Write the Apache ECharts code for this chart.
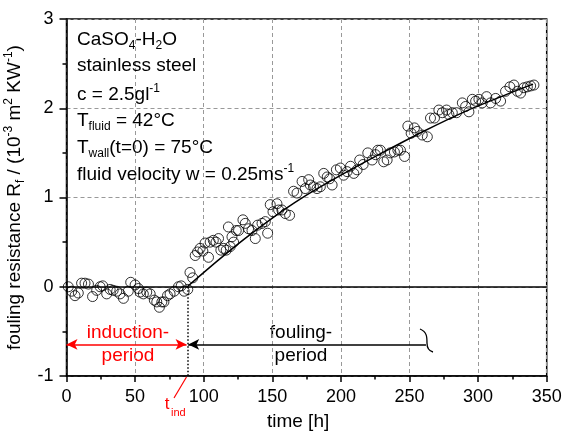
<!DOCTYPE html>
<html>
<head>
<meta charset="utf-8">
<script src="https://cdn.jsdelivr.net/npm/echarts@6/dist/echarts.min.js"></script>
<style>html,body{margin:0;padding:0;background:#fff}#c{width:564px;height:435px}</style>
</head>
<body>
<div id="c"></div>
<script>
// time [h]
var timeH = [1.3,3.8,6.2,8.6,11,13.5,16,19,22,24.5,26.4,29.3,31.8,34,36.6,39,41.5,45,46.8,50,52.4,53.6,56,58.5,61,64,65.8,67.7,69.5,71,73.6,75.5,78.5,81.6,83.6,85.8,88.4,90,92,
93.8,95.5,97.4,99.4,101,103.5,104.7,107,109,110.8,112.5,114.5,116.4,118,119.3,120.6,121.8,123.7,125.4,128.6,130.3,132.7,135.2,137.6,139.3,142.5,144.9,146.6,148.5,150.5,153.4,154.6,157,159.5,162.6,165.5,168,
171.7,174,176.5,177.7,180,182.6,185,187.5,190,191.8,193.6,196.7,199.6,202,204.5,207,209.4,211.8,213.7,216.2,219.6,222.8,225.2,226.9,228.8,231.2,233.7,236,239,241.5,243.4,246.4,248.8,251.2,253.6,255.6,
259.3,263,265.3,268.2,271.4,273.9,277,278.7,281.2,284.3,288.5,290.9,293.3,295.8,298.2,300.6,303,306.2,309.1,312.8,316.4,320,323.2,326.1,328.6,331,333.4,335.9,338.3,340.7];
// fouling resistance Rf [1e-3 m2K/W]
var rf = [0.0,-0.05,-0.1,-0.07,0.04,0.04,0.03,-0.11,-0.04,0.0,0.01,-0.08,-0.03,-0.04,-0.05,-0.08,-0.13,-0.05,0.05,0.02,-0.02,-0.06,-0.08,-0.06,-0.08,-0.15,-0.17,-0.23,-0.17,-0.17,-0.1,-0.08,-0.05,0.0,0.01,-0.05,-0.03,0.16,0.1,
0.35,0.39,0.43,0.4,0.49,0.33,0.5,0.52,0.5,0.54,0.41,0.43,0.41,0.67,0.45,0.56,0.5,0.63,0.63,0.75,0.71,0.65,0.63,0.54,0.69,0.71,0.73,0.6,0.92,0.84,0.93,0.86,0.86,0.82,0.8,1.07,1.05,
1.18,1.1,1.2,1.14,1.12,1.1,1.12,1.27,1.23,1.21,1.14,1.31,1.33,1.25,1.29,1.35,1.27,1.31,1.42,1.37,1.5,1.42,1.48,1.53,1.53,1.4,1.42,1.5,1.51,1.53,1.53,1.46,1.8,1.72,1.78,1.74,
1.7,1.68,1.89,1.89,1.98,1.95,1.98,1.93,1.95,1.95,2.06,2.02,1.96,2.1,2.08,2.1,2.06,2.13,2.06,2.11,2.08,2.19,2.24,2.26,2.19,2.17,2.23,2.24,2.25,2.26];
// fitted curve
var fitT = [88,110,130,150,170,200,230,260,290,320,340];
var fitR = [0,0.29,0.54,0.77,0.98,1.25,1.5,1.74,1.96,2.15,2.27];
// annotation values
var tInd = 88.3;
var arrowY = -0.646;
var foulingEnd = 262;

var FONT = 'Liberation Sans';
var scatterData = timeH.map(function(t,i){return [t, rf[i]];});
var fitData = fitT.map(function(t,i){return [t, fitR[i]];});

var chart = echarts.init(document.getElementById('c'), null, {renderer:'canvas'});
var base = {fontFamily: FONT, fontSize: 19, color: '#000', lineHeight: 24};
var rich = {
  sub: {fontFamily: FONT, fontSize: 12, color: '#000', lineHeight: 8, verticalAlign: 'bottom'},
  sup: {fontFamily: FONT, fontSize: 12, color: '#000', lineHeight: 16, verticalAlign: 'top'}
};
var lines = [
  ['CaSO{sub|4}-H{sub|2}O', 28],
  ['stainless steel', 54],
  ['c = 2.5gl{sup|-1}', 83],
  ['T{sub|fluid} = 42°C', 109],
  ['T{sub|wall}(t=0) = 75°C', 136],
  ['fluid velocity w = 0.25ms{sup|-1}', 163]
];
var titles = lines.map(function(l){
  return {text: l[0], left: 77, top: l[1], padding: 0, textStyle: Object.assign({}, base, {fontWeight: 'normal', rich: rich})};
});

chart.setOption({
  animation: false,
  backgroundColor: '#fff',
  title: titles,
  grid: {left: 66.5, right: 17.3, top: 19, bottom: 59, show: true, borderColor: '#000', borderWidth: 1.5, backgroundColor: 'transparent', containLabel: false, outerBoundsMode: 'none'},
  xAxis: {
    type: 'value', min: 0, max: 350, interval: 50,
    name: 'time [h]', nameLocation: 'middle', nameGap: 36,
    nameTextStyle: {fontFamily: FONT, fontSize: 19, color: '#000', padding: [0, 17, 0, 0]},
    axisLine: {show: true, onZero: false, lineStyle: {color: '#000', width: 1.5}},
    axisTick: {show: true, inside: false, length: 6, lineStyle: {color: '#000', width: 1.5}},
    minorTick: {show: true, splitNumber: 2, length: 3.5, lineStyle: {color: '#000', width: 1.5}},
    splitLine: {show: true, lineStyle: {color: '#999', width: 1, type: [4, 3]}},
    axisLabel: {fontFamily: FONT, fontSize: 18, color: '#000', margin: 12}
  },
  yAxis: {
    type: 'value', min: -1, max: 3, interval: 1,
    name: 'fouling resistance R{sub|f} / (10{sup|-3} m{sup|2} KW{sup|-1})',
    nameLocation: 'middle', nameGap: 35, nameRotate: 90,
    nameTextStyle: Object.assign({}, base, {rich: rich}),
    axisLine: {show: true, onZero: false, lineStyle: {color: '#000', width: 1.5}},
    axisTick: {show: true, inside: false, length: 7, lineStyle: {color: '#000', width: 1.5}},
    minorTick: {show: true, splitNumber: 2, length: 4, lineStyle: {color: '#000', width: 1.5}},
    splitLine: {show: true, lineStyle: {color: '#999', width: 1, type: [4, 3]}},
    axisLabel: {fontFamily: FONT, fontSize: 18, color: '#000', margin: 13}
  },
  series: [
    {
      type: 'line', data: fitData, showSymbol: false, smooth: 0.3, z: 3,
      lineStyle: {color: '#000', width: 1.5},
      markLine: {
        silent: true, symbol: 'none', label: {show: false},
        lineStyle: {type: 'solid', color: '#000', width: 1.5},
        data: [
          [{coord: [0, 0], symbol: 'none'}, {coord: [350, 0], symbol: 'none'}],
          [{coord: [0, arrowY], symbol: 'arrow', symbolSize: [8, 11], lineStyle: {color: '#ff0000', width: 1.5, type: 'solid'}},
           {coord: [tInd - 0.8, arrowY], symbol: 'arrow', symbolSize: [8, 11]}],
          [{coord: [tInd + 0.4, arrowY], symbol: 'arrow', symbolSize: [8, 11], lineStyle: {color: '#000', width: 1.5, type: 'solid'}},
           {coord: [foulingEnd, arrowY], symbol: 'none'}],
          [{coord: [tInd, 0], symbol: 'none', lineStyle: {color: '#000', width: 1.5, type: [1.5, 2]}},
           {coord: [tInd, -1], symbol: 'none'}]
        ]
      }
    },
    {
      type: 'scatter', data: scatterData, symbol: 'circle', symbolSize: 10, z: 4,
      itemStyle: {color: 'rgba(0,0,0,0)', borderColor: '#000', borderWidth: 1}
    }
  ],
  graphic: [
    {type: 'text', x: 128, y: 333, style: {text: 'induction-', fill: '#ff0000', font: '19px "Liberation Sans"', textAlign: 'center', textVerticalAlign: 'middle'}},
    {type: 'text', x: 128, y: 356, style: {text: 'period', fill: '#ff0000', font: '19px "Liberation Sans"', textAlign: 'center', textVerticalAlign: 'middle'}},
    {type: 'text', x: 301, y: 333, style: {text: 'fouling-', fill: '#000', font: '19px "Liberation Sans"', textAlign: 'center', textVerticalAlign: 'middle'}},
    {type: 'text', x: 301, y: 356, style: {text: 'period', fill: '#000', font: '19px "Liberation Sans"', textAlign: 'center', textVerticalAlign: 'middle'}},
    {type: 'line', shape: {x1: 186.5, y1: 377, x2: 174, y2: 398}, style: {stroke: '#ff0000', lineWidth: 1.2}},
    {type: 'text', x: 167, y: 404, style: {text: 't', fill: '#ff0000', font: '17px "Liberation Sans"', textAlign: 'center', textVerticalAlign: 'middle'}},
    {type: 'text', x: 171, y: 413, style: {text: 'ind', fill: '#ff0000', font: '11px "Liberation Sans"', textAlign: 'left', textVerticalAlign: 'middle'}},
    {type: 'bezierCurve', shape: {x1: 420, y1: 329, cpx1: 427, cpy1: 332, cpx2: 427, cpy2: 337, x2: 427, y2: 343}, style: {stroke: '#000', fill: null, lineWidth: 1.3}},
    {type: 'bezierCurve', shape: {x1: 427, y1: 343, cpx1: 427, cpy1: 348, cpx2: 429, cpy2: 351, x2: 433, y2: 352}, style: {stroke: '#000', fill: null, lineWidth: 1.3}}
  ]
});
</script>
</body>
</html>
